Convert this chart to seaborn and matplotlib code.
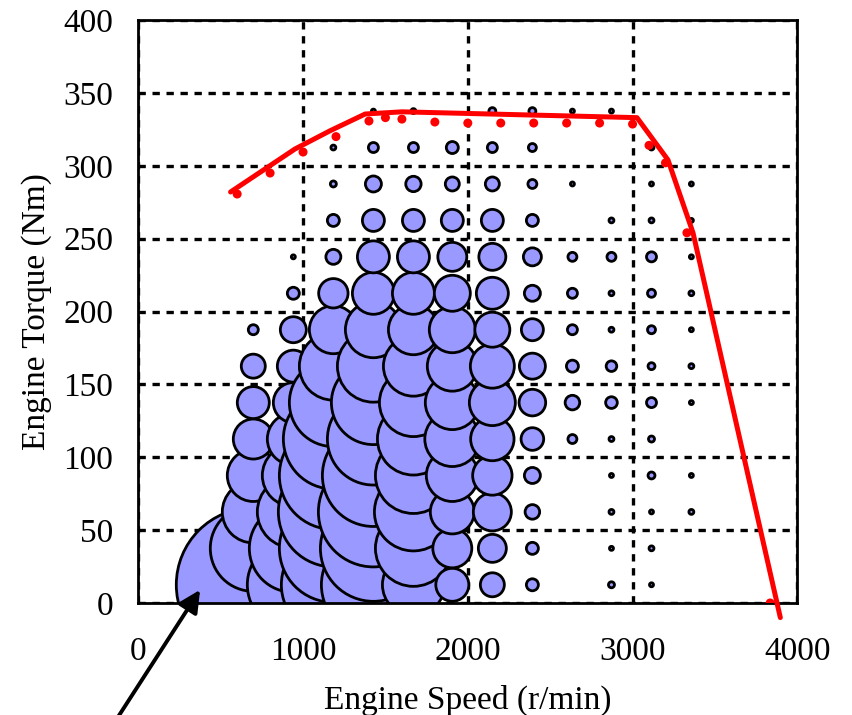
import numpy as np
import pandas as pd
import seaborn as sns
import matplotlib.pyplot as plt

# operating-point grid (engine speed columns, torque rows)
speed = [698, 941, 1184, 1427, 1670, 1906, 2149, 2392, 2635, 2872, 3115, 3357]
torque = [12.5, 37.5, 62.5, 87.5, 112.5, 137.5, 162.5, 187.5,
          212.5, 237.5, 262.5, 287.5, 312.5, 337.5]

# time share of each operating point, one row per speed column (torque ascending)
share = [
    [59.29, 18.49, 9.61, 6.76, 4.00, 2.56, 1.44, 0.25, 0, 0, 0, 0, 0, 0],
    [21.16, 19.36, 12.96, 9.61, 6.76, 4.00, 2.56, 1.69, 0.36, 0.04, 0, 0, 0, 0],
    [27.04, 29.16, 30.25, 29.16, 25.00, 19.36, 11.56, 5.76, 2.16, 0.56, 0.36, 0.09, 0.06, 0],
    [27.04, 28.09, 30.25, 26.01, 21.16, 17.64, 12.96, 7.84, 4.41, 2.56, 1.21, 0.64, 0.25, 0.04],
    [9.61, 14.44, 15.21, 14.44, 12.96, 11.56, 9.00, 6.25, 4.41, 2.56, 1.21, 0.59, 0.25, 0.06],
    [2.72, 3.80, 4.84, 6.76, 7.56, 7.29, 6.25, 5.29, 3.24, 2.10, 1.21, 0.49, 0.36, 0],
    [1.44, 1.96, 3.61, 3.88, 4.71, 5.29, 4.84, 3.06, 2.56, 1.82, 1.21, 0.49, 0.25, 0.12],
    [0.36, 0.36, 0.53, 0.64, 1.28, 1.77, 1.69, 1.21, 0.64, 0.81, 0.36, 0.20, 0.16, 0.12],
    [0, 0, 0, 0, 0.20, 0.53, 0.36, 0.25, 0.25, 0.20, 0, 0.04, 0, 0.04],
    [0.09, 0.04, 0.06, 0.04, 0.06, 0.34, 0.28, 0.06, 0.06, 0.20, 0.06, 0, 0, 0.04],
    [0.04, 0.06, 0.04, 0.12, 0.09, 0.25, 0.12, 0.16, 0.16, 0.25, 0.06, 0.04, 0.06, 0],
    [0, 0, 0.06, 0.04, 0, 0.04, 0.06, 0.04, 0.06, 0.04, 0.04, 0.04, 0, 0],
]

# full-load torque curve
wot_line_rpm = [560, 951, 1164, 1377, 1601, 3027, 3215, 3367, 3897]
wot_line_nm = [282, 311.5, 324, 335.5, 337, 333, 304, 254, -10]
wot_pts_rpm = [600, 800, 1000, 1200, 1400, 1500, 1600, 1800, 2000, 2200,
               2400, 2600, 2800, 3000, 3100, 3200, 3330, 3835]
wot_pts_nm = [280.6, 295, 309.4, 320, 330.7, 333, 332, 330, 329.3, 329.3,
              329.3, 329.3, 329.3, 328.6, 314, 302, 254, 0]

rows = []
for i, s in enumerate(speed):
    for j, t in enumerate(torque):
        if share[i][j] > 0:
            rows.append((s, t, share[i][j]))
df = pd.DataFrame(rows, columns=['speed', 'torque', 'share'])

sns.set_style('white')
plt.rcParams['font.family'] = ['Liberation Serif', 'DejaVu Serif']
plt.rcParams['text.color'] = 'black'
plt.rcParams['axes.labelcolor'] = 'black'

fig = plt.figure(figsize=(8.52, 7.15), dpi=100)
ax = fig.add_axes([138.3 / 852, 1 - 603 / 715, 659 / 852, 583 / 715])

sns.scatterplot(data=df, x='speed', y='torque', size='share',
                sizes=(0, 12442), size_norm=(0, 60), color='#9999FF',
                edgecolor='black', linewidth=2.0, legend=False, ax=ax, zorder=2)

sns.scatterplot(x=wot_pts_rpm, y=wot_pts_nm, color='red', s=42,
                edgecolor='none', ax=ax, zorder=3)
sns.lineplot(x=wot_line_rpm, y=wot_line_nm, sort=False, estimator=None,
             color='red', linewidth=3.6, ax=ax, zorder=4)
ax.lines[-1].set_clip_on(False)

ax.set_xlim(0, 4000)
ax.set_ylim(0, 400)
ax.set_xticks(range(0, 4001, 1000))
ax.set_yticks(range(0, 401, 50))
ax.grid(True, color='black', linestyle=(0, (2.2, 2.0)), linewidth=2.4)
ax.set_axisbelow(True)
for sp in ax.spines.values():
    sp.set_color('black')
    sp.set_linewidth(2.0)

ax.tick_params(axis='both', direction='in', length=4, width=1.5,
               labelsize=24, colors='black')
ax.tick_params(axis='x', pad=24)
ax.tick_params(axis='y', pad=18)

ax.set_xlabel('Engine Speed (r/min)', fontsize=24, color='black')
ax.set_ylabel('Engine Torque (Nm)', fontsize=24, color='black')
ax.xaxis.set_label_coords(0.5, -0.141)
ax.yaxis.set_label_coords(-0.131, 0.5)

ax.annotate('', xy=(375, 9), xycoords='data',
            xytext=(118, -2), textcoords='figure pixels',
            arrowprops=dict(arrowstyle='-|>,head_length=0.6,head_width=0.3',
                            color='black', lw=2.8, mutation_scale=22,
                            shrinkA=0, shrinkB=0),
            annotation_clip=False)

fig.savefig('out.png', dpi=100)
